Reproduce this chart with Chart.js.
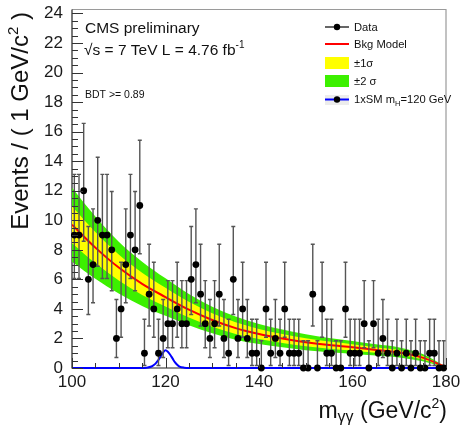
<!DOCTYPE html>
<html>
<head>
<meta charset="utf-8">
<script src="https://cdn.jsdelivr.net/npm/chart.js@4.4.0/dist/chart.umd.min.js"></script>
<style>
  html, body { margin: 0; padding: 0; background: #fff; }
  #wrap { width: 467px; height: 427px; }
</style>
</head>
<body>
<div id="wrap"><canvas id="chart" width="467" height="427"></canvas></div>
<script>
// binning of the diphoton mass histogram (1 GeV bins from 100 to 180)
const massMin = 100;
const binWidth = 1;

// events per bin
const counts = [
  9, 9, 12, 6, 7, 10, 9, 9, 8, 2,
  4, 7, 9, 8, 11, 1, 5, 4, 1, 2,
  3, 3, 4, 3, 3, 6, 7, 5, 3, 2,
  3, 5, 2, 1, 6, 2, 4, 2, 1, 1,
  0, 4, 1, 2, 1, 4, 1, 1, 1, 0,
  0, 5, 0, 4, 1, 1, 0, 0, 4, 1,
  1, 1, 3, 0, 3, 1, 2, 1, 0, 1,
  0, 1, 0, 1, 0, 0, 1, 1, 0, 0
];

// 68% Poisson (Garwood) interval for n = 0..12
const poissonLow  = [0, 0.173, 0.708, 1.367, 2.086, 2.840, 3.620, 4.419, 5.232, 6.057, 6.891, 7.734, 8.585];
const poissonHigh = [1.841, 3.300, 4.638, 5.918, 7.163, 8.382, 9.584, 10.77, 11.95, 13.11, 14.27, 15.42, 16.56];

// background model and its bands
const modelMass = [100, 105, 110, 115, 120, 125, 130, 135, 140, 145, 150, 155, 160, 165, 170, 175, 180];
const bkgModel  = [9.7, 8.15, 6.8, 5.7, 4.8, 3.95, 3.25, 2.7, 2.3, 2.0, 1.75, 1.55, 1.4, 1.22, 1.05, 0.7, 0.05];
const sigma1    = [1.25, 1.05, 0.88, 0.75, 0.63, 0.53, 0.45, 0.39, 0.34, 0.3, 0.27, 0.24, 0.21, 0.19, 0.17, 0.12, 0.02];
const sigma2    = [2.5, 2.1, 1.75, 1.5, 1.27, 1.06, 0.9, 0.78, 0.68, 0.6, 0.54, 0.48, 0.43, 0.38, 0.34, 0.25, 0.04];

// 1xSM signal, mH = 120 GeV
const signalMass = [100, 115, 116, 117, 117.5, 118, 118.5, 119, 119.5, 120, 120.5, 121, 121.5, 122, 122.5, 123, 124, 125, 180];
const signalVal  = [0, 0, 0.02, 0.1, 0.2, 0.35, 0.55, 0.8, 1.05, 1.2, 1.1, 0.9, 0.65, 0.4, 0.22, 0.1, 0.02, 0, 0];

const xTickValues = [100, 120, 140, 160, 180];
const yTickValues = [0, 2, 4, 6, 8, 10, 12, 14, 16, 18, 20, 22, 24];

const FONT = "'Liberation Sans', Arial, Helvetica, sans-serif";

const binCenters = counts.map((c, i) => massMin + (i + 0.5) * binWidth);
const pts = (xs, ys) => xs.map((x, i) => ({ x: x, y: ys[i] }));

function drawRich(ctx, parts, x, y) {
  // parts: [text, size, dy]
  parts.forEach(([t, size, dy]) => {
    ctx.font = size + "px " + FONT;
    ctx.fillText(t, x, y + dy);
    x += ctx.measureText(t).width;
  });
  return x;
}
function richWidth(ctx, parts) {
  let w = 0;
  parts.forEach(([t, size]) => {
    ctx.font = size + "px " + FONT;
    w += ctx.measureText(t).width;
  });
  return w;
}

const decorations = {
  id: "decorations",
  beforeDatasetDraw(chart, args) {
    if (chart.data.datasets[args.index].label !== "Data") return;
    const ctx = chart.ctx;
    const xs = chart.scales.x, ys = chart.scales.y;
    ctx.save();
    ctx.strokeStyle = "#555";
    ctx.lineWidth = 1.4;
    counts.forEach((n, i) => {
      const px = xs.getPixelForValue(binCenters[i]);
      const lo = ys.getPixelForValue(poissonLow[n]);
      const hi = ys.getPixelForValue(poissonHigh[n]);
      ctx.beginPath();
      ctx.moveTo(px, lo);
      ctx.lineTo(px, hi);
      ctx.moveTo(px - 2, hi);
      ctx.lineTo(px + 2, hi);
      if (n > 0) {
        ctx.moveTo(px - 2, lo);
        ctx.lineTo(px + 2, lo);
      }
      ctx.stroke();
    });
    ctx.restore();
  },
  beforeDatasetsDraw(chart) {
    const ctx = chart.ctx;
    const a = chart.chartArea;
    ctx.save();
    // frame
    ctx.strokeStyle = "#9a9a9a";
    ctx.lineWidth = 1.2;
    ctx.beginPath();
    ctx.moveTo(a.left, a.top);
    ctx.lineTo(a.right, a.top);
    ctx.lineTo(a.right, a.bottom);
    ctx.stroke();
    ctx.strokeStyle = "#222";
    ctx.beginPath();
    ctx.moveTo(a.left, a.top);
    ctx.lineTo(a.left, a.bottom);
    ctx.lineTo(a.right, a.bottom);
    ctx.stroke();
    ctx.restore();
  },
  afterDatasetsDraw(chart) {
    const ctx = chart.ctx;
    const a = chart.chartArea;
    const xs = chart.scales.x, ys = chart.scales.y;
    ctx.save();
    // ticks inside the frame
    ctx.strokeStyle = "#333";
    ctx.lineWidth = 1;
    ctx.beginPath();
    for (let v = 0; v <= 24; v += 0.5) {
      const py = Math.round(ys.getPixelForValue(v)) + 0.5;
      const len = v % 2 === 0 ? 11 : 6;
      ctx.moveTo(a.left, py);
      ctx.lineTo(a.left + len, py);
    }
    for (let m = 100; m <= 180; m += 5) {
      const px = Math.round(xs.getPixelForValue(m)) + 0.5;
      const len = m % 20 === 0 ? 10 : 5;
      ctx.moveTo(px, a.bottom);
      ctx.lineTo(px, a.bottom - len);
    }
    ctx.stroke();

    // texts in the frame
    ctx.fillStyle = "#111";
    ctx.textBaseline = "alphabetic";
    ctx.textAlign = "left";
    drawRich(ctx, [["CMS preliminary", 15.5, 0]], 85, 33);
    drawRich(ctx, [["\u221As = 7 TeV L = 4.76 fb", 15.5, 0], ["-1", 10, -7]], 84, 55);
    drawRich(ctx, [["BDT >= 0.89", 10.5, 0]], 85, 98);

    // legend
    const lx0 = 325, lx1 = 349, tx = 354;
    ctx.lineWidth = 1.2;
    ctx.strokeStyle = "#000";
    ctx.beginPath(); ctx.moveTo(lx0, 27); ctx.lineTo(lx1, 27); ctx.stroke();
    ctx.beginPath(); ctx.arc(337, 27, 3.2, 0, Math.PI * 2); ctx.fillStyle = "#000"; ctx.fill();
    ctx.strokeStyle = "#ff0000"; ctx.lineWidth = 2;
    ctx.beginPath(); ctx.moveTo(lx0, 44); ctx.lineTo(lx1, 44); ctx.stroke();
    ctx.fillStyle = "#ffff00"; ctx.fillRect(lx0, 57, lx1 - lx0, 12);
    ctx.fillStyle = "#3cf000"; ctx.fillRect(lx0, 75, lx1 - lx0, 12);
    ctx.fillStyle = "#ececec"; ctx.fillRect(lx0, 95, lx1 - lx0, 10);
    ctx.strokeStyle = "#0000ff"; ctx.lineWidth = 2;
    ctx.beginPath(); ctx.moveTo(lx0, 99.5); ctx.lineTo(lx1, 99.5); ctx.stroke();
    ctx.beginPath(); ctx.arc(337, 99.5, 3.2, 0, Math.PI * 2); ctx.fillStyle = "#000"; ctx.fill();

    ctx.fillStyle = "#111";
    drawRich(ctx, [["Data", 11.2, 0]], tx, 31);
    drawRich(ctx, [["Bkg Model", 11.2, 0]], tx, 48);
    drawRich(ctx, [["\u00B11\u03C3", 11.2, 0]], tx, 67);
    drawRich(ctx, [["\u00B12 \u03C3", 11.2, 0]], tx, 85);
    drawRich(ctx, [["1xSM m", 11.2, 0], ["H", 7.5, 2.5], ["=120 GeV", 11.2, 0]], tx, 103);

    // axis titles
    const xt = [["m", 23, 0], ["\u03B3\u03B3", 16, 4], [" (GeV/c", 23, 0], ["2", 14, -10], [")", 23, 0]];
    drawRich(ctx, xt, 447 - richWidth(ctx, xt), 418);

    const yt = [["Events / ( 1 GeV/c", 24, 0], ["2", 15, -10], [" )", 24, 0]];
    ctx.translate(28, 12 + richWidth(ctx, yt));
    ctx.rotate(-Math.PI / 2);
    drawRich(ctx, yt, 0, 0);
    ctx.restore();
  }
};

const lineStyle = { showLine: true, pointRadius: 0, cubicInterpolationMode: "monotone" };

const datasets = [
  Object.assign({ label: "green hi", data: pts(modelMass, bkgModel.map((v, i) => v + sigma2[i])),
    borderWidth: 0, fill: false, order: 5 }, lineStyle),
  Object.assign({ label: "green lo", data: pts(modelMass, bkgModel.map((v, i) => Math.max(0, v - sigma2[i]))),
    borderWidth: 0, fill: 0, backgroundColor: "#3cf000", order: 5 }, lineStyle),
  Object.assign({ label: "yellow hi", data: pts(modelMass, bkgModel.map((v, i) => v + sigma1[i])),
    borderWidth: 0, fill: false, order: 4 }, lineStyle),
  Object.assign({ label: "yellow lo", data: pts(modelMass, bkgModel.map((v, i) => Math.max(0, v - sigma1[i]))),
    borderWidth: 0, fill: 2, backgroundColor: "#ffff00", order: 4 }, lineStyle),
  Object.assign({ label: "Bkg Model", data: pts(modelMass, bkgModel),
    borderColor: "#ff0000", borderWidth: 2, fill: false, order: 3 }, lineStyle),
  Object.assign({ label: "Signal", data: pts(signalMass, signalVal),
    borderColor: "#0000ff", borderWidth: 2, fill: false, order: 2, clip: 4 }, lineStyle),
  {
    label: "Data",
    data: pts(binCenters, counts),
    showLine: false,
    pointRadius: 3.4,
    pointBackgroundColor: "#000",
    pointBorderWidth: 0,
    clip: 6,
    order: 0
  }
];

new Chart(document.getElementById("chart"), {
  type: "scatter",
  data: { datasets },
  options: {
    responsive: false,
    animation: false,
    devicePixelRatio: 1,
    layout: { padding: { left: 0, right: 21, top: 9.5, bottom: 0 } },
    plugins: { legend: { display: false }, tooltip: { enabled: false } },
    scales: {
      x: {
        type: "linear", min: 100, max: 180,
        afterBuildTicks: (s) => { s.ticks = xTickValues.map((v) => ({ value: v })); },
        afterFit: (s) => { s.height = 59; s.paddingLeft = 0; s.paddingRight = 0; },
        grid: { display: false, drawTicks: false },
        border: { display: false },
        ticks: { font: { size: 17, family: FONT }, color: "#1a1a1a", padding: 4, maxRotation: 0, autoSkip: false }
      },
      y: {
        type: "linear", min: 0, max: 24.27,
        afterBuildTicks: (s) => { s.ticks = yTickValues.map((v) => ({ value: v })); },
        afterFit: (s) => { s.width = 72; s.paddingTop = 0; s.paddingBottom = 0; },
        grid: { display: false, drawTicks: false },
        border: { display: false },
        ticks: { font: { size: 17, family: FONT }, color: "#1a1a1a", padding: 9, autoSkip: false }
      }
    }
  },
  plugins: [decorations]
});
</script>
</body>
</html>
